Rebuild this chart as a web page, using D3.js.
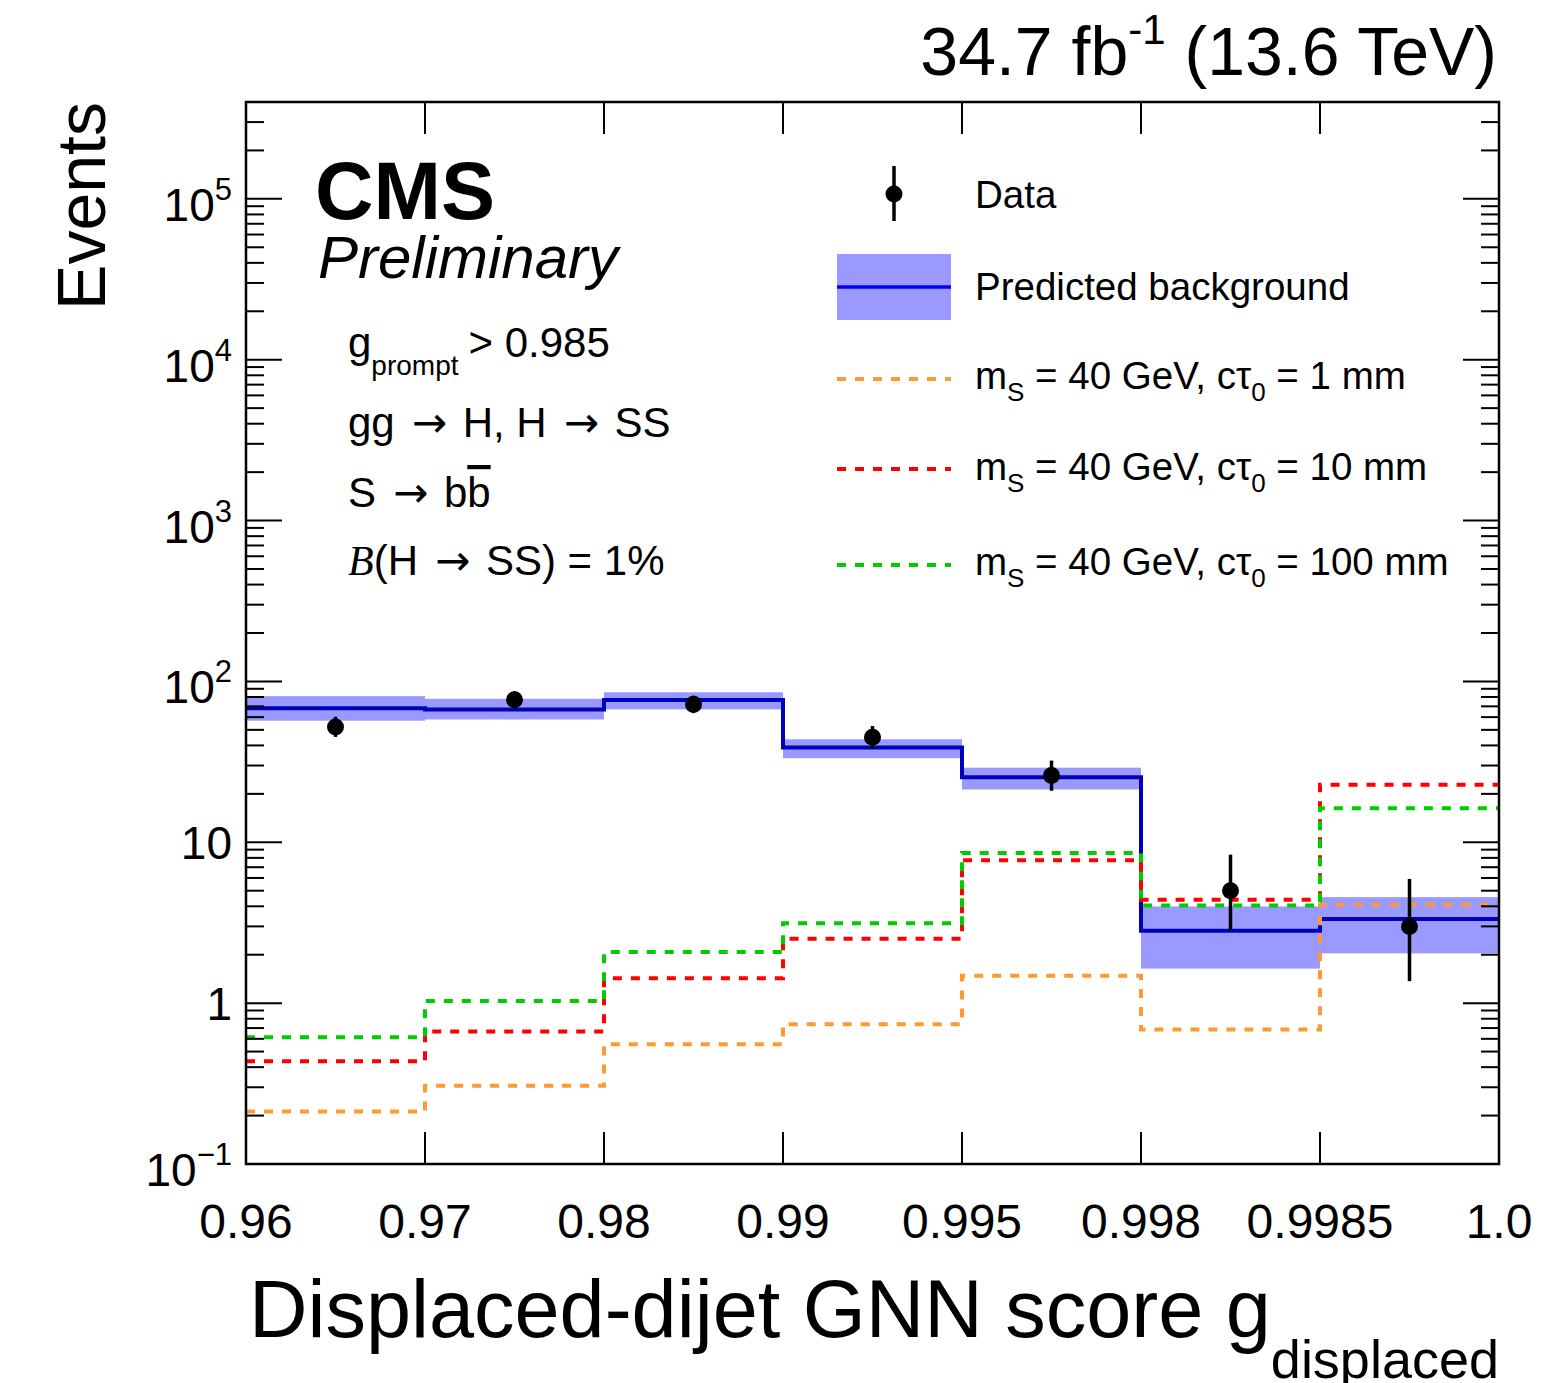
<!DOCTYPE html>
<html>
<head>
<meta charset="utf-8">
<script src="https://cdn.jsdelivr.net/npm/d3@7"></script>
<style>
  body { margin: 0; background: #fff; }
  text { font-family: "Liberation Sans", Arial, Helvetica, sans-serif; fill: #000; }
</style>
</head>
<body>
<script>
// bin edges (equal-width display bins) and contents
var binEdges = ["0.96", "0.97", "0.98", "0.99", "0.995", "0.998", "0.9985", "1.0"];

var bkg   = [68, 67, 76.6, 38.8, 25.4, 2.82, 3.34];
var bkgLo = [57, 58, 67, 33.3, 21.3, 1.64, 2.04];
var bkgHi = [81, 78, 85.6, 43.7, 29.1, 3.99, 4.56];

var dataVals = [52, 77, 72, 45, 26, 5, 3];
var dataLo   = [45.2, 68.2, 63.5, 38.3, 20.9, 2.84, 1.37];
var dataHi   = [60.3, 86.8, 81.5, 52.8, 32.2, 8.38, 5.92];

var sig1mm   = [0.212, 0.307, 0.555, 0.74, 1.48, 0.685, 4.09];
var sig10mm  = [0.435, 0.666, 1.43, 2.51, 7.72, 4.39, 22.8];
var sig100mm = [0.614, 1.03, 2.08, 3.14, 8.59, 4.05, 16.3];

var width = 1567,
	height = 1383;
var pL = 246, pR = 1499, pT = 102, pB = 1164;

var svg = d3.select("body").append("svg")
	.attr("width", width)
	.attr("height", height);

var x = d3.scaleLinear().domain([0, binEdges.length - 1]).range([pL, pR]);
var y = d3.scaleLog().domain([0.1, 4e5]).range([pB, pT]);

var nb = bkg.length;
var idx = d3.range(nb);
var ARROW = "DejaVu Sans, sans-serif";

// step path helper: one point per bin start plus the last edge
function stepPts(vals) {
	var pts = vals.map(function(v, i) { return [i, v]; });
	pts.push([nb, vals[nb - 1]]);
	return pts;
}
var stepLine = d3.line()
	.x(function(d) { return x(d[0]); })
	.y(function(d) { return y(d[1]); })
	.curve(d3.curveStepAfter);

// background uncertainty band
svg.append("g").selectAll("rect").data(idx).enter().append("rect")
	.attr("x", function(i) { return x(i); })
	.attr("width", function(i) { return x(i + 1) - x(i); })
	.attr("y", function(i) { return y(bkgHi[i]); })
	.attr("height", function(i) { return y(bkgLo[i]) - y(bkgHi[i]); })
	.attr("fill", "#9999ff");

svg.append("path")
	.attr("d", stepLine(stepPts(bkg)))
	.attr("fill", "none")
	.attr("stroke", "#0000bb")
	.attr("stroke-width", 4);

var signals = [
	{vals: sig1mm, color: "#ff9933", label: "1 mm"},
	{vals: sig10mm, color: "#ff0000", label: "10 mm"},
	{vals: sig100mm, color: "#00cc00", label: "100 mm"}
];

svg.append("g").selectAll("path").data(signals).enter().append("path")
	.attr("d", function(s) { return stepLine(stepPts(s.vals)); })
	.attr("fill", "none")
	.attr("stroke", function(s) { return s.color; })
	.attr("stroke-width", 4)
	.attr("stroke-dasharray", "9,9");

// data points
var dg = svg.append("g");
dg.selectAll("line").data(idx).enter().append("line")
	.attr("x1", function(i) { return x(i + 0.5); })
	.attr("x2", function(i) { return x(i + 0.5); })
	.attr("y1", function(i) { return y(dataHi[i]); })
	.attr("y2", function(i) { return y(dataLo[i]); })
	.attr("stroke", "#000")
	.attr("stroke-width", 3.5);
dg.selectAll("circle").data(idx).enter().append("circle")
	.attr("cx", function(i) { return x(i + 0.5); })
	.attr("cy", function(i) { return y(dataVals[i]); })
	.attr("r", 8.5)
	.attr("fill", "#000");

// frame
svg.append("rect")
	.attr("x", pL).attr("y", pT)
	.attr("width", pR - pL).attr("height", pB - pT)
	.attr("fill", "none").attr("stroke", "#000").attr("stroke-width", 2.5);

// y ticks (log, major + minor) on both sides
var yt = y.ticks().filter(function(t) { return y(t) >= pT - 0.5 && y(t) <= pB + 0.5; });
function isMajor(t) { return Math.abs(Math.log10(t) - Math.round(Math.log10(t))) < 1e-6; }
var ytg = svg.append("g").attr("stroke", "#000").attr("stroke-width", 2);
yt.forEach(function(t) {
	var len = isMajor(t) ? 36 : 18;
	ytg.append("line").attr("x1", pL).attr("x2", pL + len).attr("y1", y(t)).attr("y2", y(t));
	ytg.append("line").attr("x1", pR).attr("x2", pR - len).attr("y1", y(t)).attr("y2", y(t));
});

// y tick labels
yt.filter(isMajor).forEach(function(t) {
	var e = Math.round(Math.log10(t));
	var txt = svg.append("text").attr("x", 232).attr("text-anchor", "end")
		.attr("font-size", 46);
	if (e === 0 || e === 1) {
		txt.attr("y", y(t) + 17).text(e === 0 ? "1" : "10");
	} else {
		txt.attr("y", y(t) + 22);
		txt.append("tspan").text("10");
		txt.append("tspan").attr("font-size", 31).attr("dy", -21).text(e < 0 ? "\u2212" + (-e) : e);
	}
});

// x ticks at interior bin edges, top and bottom
var xtg = svg.append("g").attr("stroke", "#000").attr("stroke-width", 2);
d3.range(1, binEdges.length - 1).forEach(function(i) {
	xtg.append("line").attr("x1", x(i)).attr("x2", x(i)).attr("y1", pB).attr("y2", pB - 32);
	xtg.append("line").attr("x1", x(i)).attr("x2", x(i)).attr("y1", pT).attr("y2", pT + 32);
});
svg.append("g").selectAll("text").data(binEdges).enter().append("text")
	.attr("x", function(d, i) { return x(i); })
	.attr("y", 1238)
	.attr("text-anchor", "middle")
	.attr("font-size", 48)
	.text(function(d) { return d; });

// axis titles
var xt = svg.append("text").attr("x", pR).attr("y", 1337)
	.attr("text-anchor", "end").attr("font-size", 81);
xt.append("tspan").text("Displaced-dijet GNN score g");
xt.append("tspan").attr("font-size", 54).attr("dy", 41).text("displaced");

svg.append("text")
	.attr("transform", "translate(105," + pT + ") rotate(-90)")
	.attr("text-anchor", "end")
	.attr("font-size", 68)
	.text("Events");

// lumi label
var lumi = svg.append("text").attr("x", 1497).attr("y", 75)
	.attr("text-anchor", "end").attr("font-size", 68);
lumi.append("tspan").text("34.7 fb");
lumi.append("tspan").attr("font-size", 42).attr("dy", -31).text("-1");
lumi.append("tspan").attr("dy", 31).text(" (13.6 TeV)");

// CMS labels
svg.append("text").attr("x", 315).attr("y", 219)
	.attr("font-size", 81).attr("font-weight", "bold").text("CMS");
svg.append("text").attr("x", 318).attr("y", 278)
	.attr("font-size", 60).attr("font-style", "italic").text("Preliminary");

// selection text block
function arrow(t) {
	t.append("tspan").attr("font-family", ARROW).attr("dx", 4).text(" \u2192 ");
}
var t1 = svg.append("text").attr("x", 348).attr("y", 357).attr("font-size", 42);
t1.append("tspan").text("g");
t1.append("tspan").attr("font-size", 28).attr("dy", 18).text("prompt");
t1.append("tspan").attr("dy", -18).attr("dx", 10).text("> 0.985");

var t2 = svg.append("text").attr("x", 348).attr("y", 437).attr("font-size", 42);
t2.append("tspan").text("gg");
arrow(t2);
t2.append("tspan").attr("dx", 2).text("H, H");
arrow(t2);
t2.append("tspan").attr("dx", 2).text("SS");

var t3 = svg.append("text").attr("x", 348).attr("y", 507).attr("font-size", 42);
t3.append("tspan").text("S");
arrow(t3);
t3.append("tspan").attr("dx", 2).text("b");
t3.append("tspan").attr("text-decoration", "overline").text("b");

var t4 = svg.append("text").attr("x", 348).attr("y", 575).attr("font-size", 42);
t4.append("tspan").attr("font-family", "Liberation Serif, serif").attr("font-style", "italic").text("B");
t4.append("tspan").text("(H");
arrow(t4);
t4.append("tspan").attr("dx", 2).text("SS) = 1%");

// legend
var lg = svg.append("g");
lg.append("line").attr("x1", 894).attr("x2", 894).attr("y1", 166).attr("y2", 221)
	.attr("stroke", "#000").attr("stroke-width", 3.5);
lg.append("circle").attr("cx", 894).attr("cy", 194).attr("r", 8.5).attr("fill", "#000");
lg.append("text").attr("x", 975).attr("y", 208).attr("font-size", 38.5).text("Data");

lg.append("rect").attr("x", 837).attr("y", 254).attr("width", 114).attr("height", 66).attr("fill", "#9999ff");
lg.append("line").attr("x1", 837).attr("x2", 951).attr("y1", 287).attr("y2", 287)
	.attr("stroke", "#0000ff").attr("stroke-width", 3.5);
lg.append("text").attr("x", 975).attr("y", 300).attr("font-size", 38.5).text("Predicted background");

var legY = [379, 469, 565];
var legT = [389, 480, 575];
signals.forEach(function(s, i) {
	lg.append("line").attr("x1", 837).attr("x2", 951).attr("y1", legY[i]).attr("y2", legY[i])
		.attr("stroke", s.color).attr("stroke-width", 4).attr("stroke-dasharray", "9,9");
	var t = lg.append("text").attr("x", 975).attr("y", legT[i]).attr("font-size", 38.5);
	t.append("tspan").text("m");
	t.append("tspan").attr("font-size", 26).attr("dy", 12).text("S");
	t.append("tspan").attr("dy", -12).text(" = 40 GeV, c\u03c4");
	t.append("tspan").attr("font-size", 26).attr("dy", 12).text("0");
	t.append("tspan").attr("dy", -12).text(" = " + s.label);
});
</script>
</body>
</html>
